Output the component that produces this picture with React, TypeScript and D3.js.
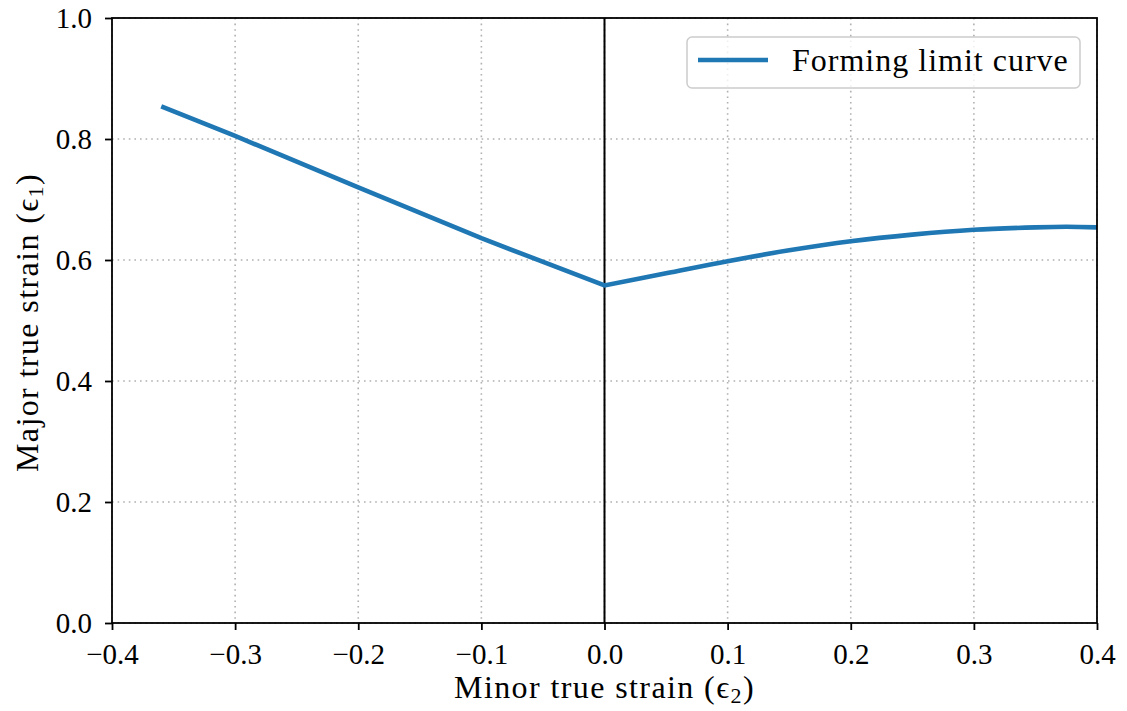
import React, { useEffect, useRef } from 'react';
import * as d3 from 'd3';

// forming limit curve
const leftMinor = [-0.36, -0.3, -0.2, -0.1, 0.0];
const leftMajor = [0.854, 0.805, 0.72, 0.636, 0.558];
const rightMinor = [0.0, 0.05, 0.1, 0.15, 0.2, 0.25, 0.3, 0.35, 0.375, 0.4];
const rightMajor = [0.558, 0.578, 0.598, 0.616, 0.631, 0.642, 0.65, 0.654, 0.655, 0.654];

const xTicks = [-0.4, -0.3, -0.2, -0.1, 0.0, 0.1, 0.2, 0.3, 0.4];
const yTicks = [0.0, 0.2, 0.4, 0.6, 0.8, 1.0];
const seriesLabel = 'Forming limit curve';

const W = 1127;
const H = 711;
const margin = { top: 18, right: 30, bottom: 88, left: 112 };
const FONT = '"Liberation Serif", "DejaVu Serif", serif';
const BLUE = '#1f77b4';

export default function App() {
    const ref = useRef<SVGSVGElement>(null);

    useEffect(() => {
        const svgEl = d3.select(ref.current);
        svgEl.selectAll('*').remove();

        const innerW = W - margin.left - margin.right;
        const innerH = H - margin.top - margin.bottom;

        const x = d3.scaleLinear().domain([-0.4, 0.4]).range([0, innerW]);
        const y = d3.scaleLinear().domain([0, 1]).range([innerH, 0]);

        const g = svgEl.append('g').attr('transform', `translate(${margin.left},${margin.top})`);

        // grid
        g.append('g')
            .selectAll('line')
            .data(xTicks)
            .enter()
            .append('line')
            .attr('x1', (d) => x(d))
            .attr('x2', (d) => x(d))
            .attr('y1', 0)
            .attr('y2', innerH)
            .attr('stroke', '#b0b0b0')
            .attr('stroke-width', 1.6)
            .attr('stroke-dasharray', '1.6,4');
        g.append('g')
            .selectAll('line')
            .data(yTicks)
            .enter()
            .append('line')
            .attr('x1', 0)
            .attr('x2', innerW)
            .attr('y1', (d) => y(d))
            .attr('y2', (d) => y(d))
            .attr('stroke', '#b0b0b0')
            .attr('stroke-width', 1.6)
            .attr('stroke-dasharray', '1.6,4');

        // vertical line at zero
        g.append('line')
            .attr('x1', x(0))
            .attr('x2', x(0))
            .attr('y1', 0)
            .attr('y2', innerH)
            .attr('stroke', 'black')
            .attr('stroke-width', 2);

        // the curve: straight on the left, smooth on the right
        const left = leftMinor.map((d, i) => [d, leftMajor[i]] as [number, number]);
        const right = rightMinor.map((d, i) => [d, rightMajor[i]] as [number, number]);
        const lineLin = d3
            .line<[number, number]>()
            .x((d) => x(d[0]))
            .y((d) => y(d[1]));
        const lineSmooth = d3
            .line<[number, number]>()
            .x((d) => x(d[0]))
            .y((d) => y(d[1]))
            .curve(d3.curveCatmullRom);
        const pathD = (lineLin(left) || '') + (lineSmooth(right) || '').replace(/^M/, 'L');
        g.append('path')
            .attr('d', pathD)
            .attr('fill', 'none')
            .attr('stroke', BLUE)
            .attr('stroke-width', 4.6)
            .attr('stroke-linejoin', 'miter');

        // frame
        g.append('rect')
            .attr('x', 0)
            .attr('y', 0)
            .attr('width', innerW)
            .attr('height', innerH)
            .attr('fill', 'none')
            .attr('stroke', 'black')
            .attr('stroke-width', 1.8);

        // axes
        const fmt = (d: number) => d.toFixed(1).replace('-', '\u2212');
        const xAxis = g
            .append('g')
            .attr('transform', `translate(0,${innerH})`)
            .call(d3.axisBottom(x).tickValues(xTicks).tickFormat((d) => fmt(d as number)).tickSize(7).tickPadding(13));
        const yAxis = g
            .append('g')
            .call(d3.axisLeft(y).tickValues(yTicks).tickFormat((d) => fmt(d as number)).tickSize(7).tickPadding(13));
        [xAxis, yAxis].forEach((a) => {
            a.select('.domain').remove();
            a.selectAll('line').attr('stroke', 'black').attr('stroke-width', 1.8);
            a.selectAll('text').attr('font-family', FONT).attr('font-size', 29).attr('fill', 'black');
        });

        // axis labels
        const xl = svgEl
            .append('text')
            .attr('x', margin.left + x(0))
            .attr('y', 698)
            .attr('text-anchor', 'middle')
            .attr('font-family', FONT)
            .attr('font-size', 32)
            .attr('letter-spacing', 1.4);
        xl.append('tspan').text('Minor true strain (\u03f5');
        xl.append('tspan').attr('font-size', 22).attr('dy', 5).text('2');
        xl.append('tspan').attr('dy', -5).text(')');

        const yl = svgEl
            .append('text')
            .attr('transform', `translate(38,${margin.top + innerH / 2 + 2}) rotate(-90)`)
            .attr('text-anchor', 'middle')
            .attr('font-family', FONT)
            .attr('font-size', 32)
            .attr('letter-spacing', 1.4);
        yl.append('tspan').text('Major true strain (\u03f5');
        yl.append('tspan').attr('font-size', 22).attr('dy', 5).text('1');
        yl.append('tspan').attr('dy', -5).text(')');

        // legend
        const lg = g.append('g').attr('transform', `translate(${x(0.4) - 410},19)`);
        lg.append('rect')
            .attr('x', 0)
            .attr('y', 0)
            .attr('width', 393)
            .attr('height', 51)
            .attr('rx', 5)
            .attr('fill', 'white')
            .attr('fill-opacity', 0.8)
            .attr('stroke', '#cccccc')
            .attr('stroke-width', 1.5);
        lg.append('line')
            .attr('x1', 11)
            .attr('x2', 81)
            .attr('y1', 23)
            .attr('y2', 23)
            .attr('stroke', BLUE)
            .attr('stroke-width', 4.6);
        lg.append('text')
            .attr('x', 105)
            .attr('y', 34)
            .attr('font-family', FONT)
            .attr('font-size', 32)
            .attr('letter-spacing', 1)
            .text(seriesLabel);
    }, []);

    return (
        <div style={{ position: 'absolute', left: 0, top: 0, background: 'white' }}>
            <svg ref={ref} width={W} height={H} />
        </div>
    );
}
